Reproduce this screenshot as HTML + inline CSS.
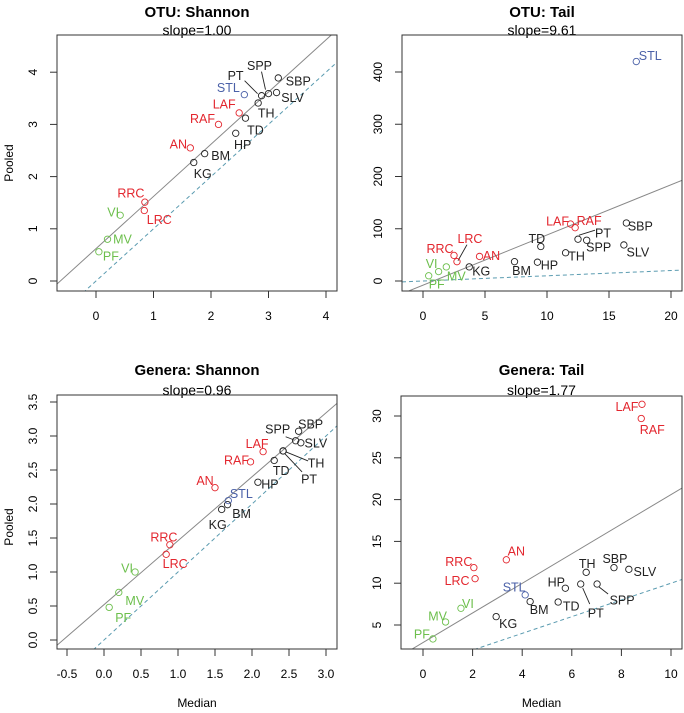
<!DOCTYPE html>
<html><head><meta charset="utf-8"><style>
html,body{margin:0;padding:0;background:#fff;}
svg{display:block;font-family:"Liberation Sans",Arial,sans-serif;}
</style></head><body>
<svg id="chart" width="684" height="713" viewBox="0 0 684 713"></svg>
<script>
const siteNames = ["PF","MV","VI","RRC","LRC","AN","KG","BM","RAF","LAF","HP","TD","TH","PT","SPP","STL","SBP","SLV"];
const siteGroups = ["g","g","g","r","r","r","k","k","r","r","k","k","k","k","k","b","k","k"];
const otuShannonX = [0.05,0.2,0.42,0.85,0.84,1.64,1.7,1.89,2.13,2.49,2.43,2.6,2.82,2.88,3.0,2.58,3.17,3.14];
const otuShannonY = [0.56,0.8,1.26,1.51,1.35,2.55,2.27,2.44,3.0,3.22,2.83,3.12,3.41,3.55,3.59,3.57,3.89,3.61];
const otuTailX = [0.46,1.88,1.26,2.5,2.74,4.56,3.73,7.38,12.27,11.9,9.23,9.5,11.5,12.5,13.2,17.2,16.4,16.2];
const otuTailY = [10,27,18,49,37,47,27,37,102,109,36,66,54,80,78,420,111,69];
const genShannonX = [0.07,0.2,0.42,0.89,0.84,1.5,1.59,1.67,1.98,2.15,2.08,2.30,2.42,2.42,2.59,1.68,2.63,2.66];
const genShannonY = [0.48,0.70,1.0,1.40,1.26,2.24,1.92,1.99,2.62,2.77,2.32,2.64,2.78,2.78,2.93,2.05,3.07,2.90];
const genTailX = [0.4,0.91,1.53,2.05,2.1,3.36,2.95,4.32,8.8,8.83,5.74,5.45,6.58,6.36,7.02,4.12,7.7,8.3];
const genTailY = [3.33,5.36,7.0,11.86,10.54,12.8,6.0,7.8,29.7,31.4,9.4,7.75,11.3,9.9,9.9,8.6,11.86,11.66];
const panelTitles = ["OTU: Shannon","OTU: Tail","Genera: Shannon","Genera: Tail"];
const panelSlopes = ["slope=1.00","slope=9.61","slope=0.96","slope=1.77"];
const fitIntercepts = [0.62,-8,0.52,2.9];
const fitSlopes = [1.0,9.61,0.94,1.77];
const xTicks1 = [0,1,2,3,4];
const yTicks1 = [0,1,2,3,4];
const xTicks2 = [0,5,10,15,20];
const yTicks2 = [0,100,200,300,400];
const xTicks3 = [-0.5,0,0.5,1,1.5,2,2.5,3];
const yTicks3 = [0,0.5,1,1.5,2,2.5,3,3.5];
const xTicks4 = [0,2,4,6,8,10];
const yTicks4 = [5,10,15,20,25,30];

const colors = {g:"#6cbf4c", r:"#e3262e", b:"#4b61a8", k:"#222"};
const NS = "http://www.w3.org/2000/svg";
const svg = document.getElementById("chart");
function mk(tag, attrs, parent){const e=document.createElementNS(NS,tag);for(const k in attrs)e.setAttribute(k,attrs[k]);(parent||svg).appendChild(e);return e;}

const panels = [
 {key:"otu-shannon", xs:otuShannonX, ys:otuShannonY, xt:xTicks1, yt:yTicks1, fmt:v=>String(v),
  box:[57,35,337,291], xm:v=>96+57.5*v, ym:v=>281-52.2*v, tY:17, sY:35, ylab:163, xlab:null,
  off:[[12,4],[15,0],[-7,-3],[-14,-9],[15,9],[-12,-4],[9,11],[16,2],[-16,-6],[-15,-9],[7,11],[10,12],[8,10],[-26,-20],[-9,-28],[-16,-7],[20,3],[16,5]],
  leaders:[[13,-17,-15,-4,-2],[14,-7,-22,-3,-4]]},
 {key:"otu-tail", xs:otuTailX, ys:otuTailY, xt:xTicks2, yt:yTicks2, fmt:v=>String(v),
  box:[402,35,682,291], xm:v=>423+12.4*v, ym:v=>281-0.5225*v, tY:17, sY:35, ylab:null, xlab:null,
  off:[[8,8],[10,9],[-7,-8],[-14,-7],[13,-23],[12,-1],[12,4],[7,9],[14,-7],[-13,-3],[12,3],[-4,-8],[11,3],[25,-6],[12,7],[14,-6],[14,3],[14,7]],
  leaders:[[13,1,-4,17,-9],[4,1,-1,10,-17]]},
 {key:"genera-shannon", xs:genShannonX, ys:genShannonY, xt:xTicks3, yt:yTicks3, fmt:v=>v.toFixed(1),
  box:[57,395,337,649], xm:v=>104+74*v, ym:v=>640-68*v, tY:375, sY:395, ylab:527, xlab:703,
  off:[[14,10],[16,8],[-8,-4],[-6,-8],[9,9],[-10,-7],[-4,15],[14,9],[-14,-2],[-6,-8],[12,2],[7,10],[33,12],[26,28],[-18,-12],[13,-7],[12,-7],[15,0]],
  leaders:[[14,-10,-4,-2,-1],[12,3,1,25,10],[13,2,3,19,21]]},
 {key:"genera-tail", xs:genTailX, ys:genTailY, xt:xTicks4, yt:yTicks4, fmt:v=>String(v),
  box:[401,396,682,649], xm:v=>423+24.8*v, ym:v=>625-8.36*(v-5), tY:375, sY:395, ylab:null, xlab:703,
  off:[[-11,-5],[-8,-6],[7,-5],[-15,-6],[-18,2],[10,-9],[12,7],[9,8],[11,11],[-15,2],[-9,-6],[13,4],[1,-9],[15,29],[25,16],[-11,-8],[1,-9],[16,2]],
  leaders:[[14,2,3,11,10],[13,2,4,9,20]]}
];

panels.forEach((p,pi)=>{
  const g = mk("g",{});
  
  
  const [L,T,R,B] = p.box;
  const cx=(L+R)/2;
  const t=mk("text",{x:cx,y:p.tY,"text-anchor":"middle","font-size":"15","font-weight":"bold",fill:"#000"},g);
  t.textContent=panelTitles[pi];
  
  
  const s=mk("text",{x:cx,y:p.sY,"text-anchor":"middle","font-size":"14",fill:"#000"},g);
  s.textContent=panelSlopes[pi];
  
  
  const cp=mk("clipPath",{id:"clip"+pi},g);
  mk("rect",{x:L,y:T,width:R-L,height:B-T},cp);
  // lines
  const xa=(L-p.xm(0))/(p.xm(1)-p.xm(0)), xb=(R-p.xm(0))/(p.xm(1)-p.xm(0));
  const fit=mk("line",{x1:L,y1:p.ym(fitIntercepts[pi]+fitSlopes[pi]*xa),x2:R,y2:p.ym(fitIntercepts[pi]+fitSlopes[pi]*xb),stroke:"#888","stroke-width":"1","clip-path":"url(#clip"+pi+")"},g);
  
  
  const id=mk("line",{x1:L,y1:p.ym(xa),x2:R,y2:p.ym(xb),stroke:"#5a9bb0","stroke-width":"1","stroke-dasharray":"4,3","clip-path":"url(#clip"+pi+")"},g);
  
  
  // box
  const bx=mk("rect",{x:L,y:T,width:R-L,height:B-T,fill:"none",stroke:"#333","stroke-width":"1"},g);
  
  
  // ticks
  p.xt.forEach(v=>{
    const x=p.xm(v);
    mk("line",{x1:x,y1:B,x2:x,y2:B+7,stroke:"#333"},g);
    const tl=mk("text",{x:x,y:B+29,"text-anchor":"middle","font-size":"12",fill:"#000"},g);
    tl.textContent=p.fmt(v);
    
    
  });
  p.yt.forEach(v=>{
    const y=p.ym(v);
    mk("line",{x1:L,y1:y,x2:L-7,y2:y,stroke:"#333"},g);
    const tl=mk("text",{x:L-20,y:y,"text-anchor":"middle","font-size":"12",fill:"#000",transform:"rotate(-90 "+(L-20)+" "+y+")"},g);
    tl.textContent=p.fmt(v);
    
    
  });
  if(p.ylab){
    const yl=mk("text",{x:13,y:p.ylab,"text-anchor":"middle","font-size":"12",fill:"#000",transform:"rotate(-90 13 "+p.ylab+")"},g);
    yl.textContent="Pooled";
    
    
  }
  if(p.xlab){
    const xl=mk("text",{x:cx,y:p.xlab+4,"text-anchor":"middle","font-size":"12",fill:"#000"},g);
    xl.textContent="Median";
    
    
  }
  // leaders
  p.leaders.forEach(ld=>{
    const i=ld[0], px=p.xm(p.xs[i]), py=p.ym(p.ys[i]);
    const l=mk("line",{x1:px+ld[1],y1:py+ld[2],x2:px+ld[3],y2:py+ld[4],stroke:"#222","stroke-width":"0.9"},g);
    
    
  });
  // points
  siteNames.forEach((n,i)=>{
    const px=p.xm(p.xs[i]), py=p.ym(p.ys[i]);
    const c=colors[siteGroups[i]];
    const pt=mk("circle",{cx:px,cy:py,r:3.2,fill:"none",stroke:c,"stroke-width":"0.9"},g);
    
    
    const o=p.off[i];
    const lb=mk("text",{x:px+o[0],y:py+o[1]+4.5,"text-anchor":"middle","font-size":"12.5",fill:c},g);
    lb.textContent=n;
    
    
  });
});
</script>
</body></html>
